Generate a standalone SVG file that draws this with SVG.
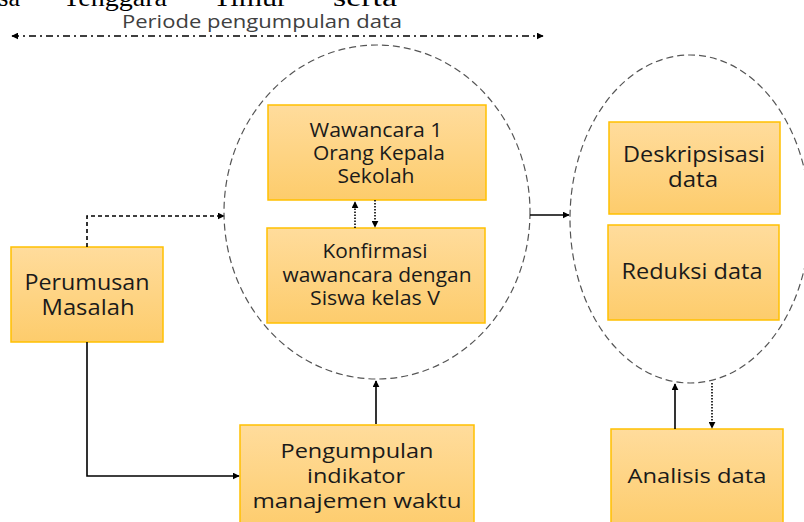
<svg xmlns="http://www.w3.org/2000/svg" width="804" height="522" viewBox="0 0 804 522">
  <defs>
    <linearGradient id="boxFill" x1="0" y1="0" x2="0" y2="1">
      <stop offset="0" stop-color="#FFDC9C"/>
      <stop offset="1" stop-color="#FDCC6C"/>
    </linearGradient>
    <marker id="arrow" viewBox="0 0 10 10" refX="9" refY="5" markerWidth="4.5" markerHeight="4.5" orient="auto" markerUnits="strokeWidth">
      <path d="M0,0 L10,5 L0,10 z" fill="#000"/>
    </marker>
    <marker id="arrowS" viewBox="0 0 10 10" refX="9" refY="5" markerWidth="7" markerHeight="7" orient="auto-start-reverse" markerUnits="userSpaceOnUse">
      <path d="M0,0 L10,5 L0,10 z" fill="#000"/>
    </marker>
  </defs>
  <style>
    .box { fill: url(#boxFill); stroke: #FFC000; stroke-width: 1.5; }
    .lbl { font-family: "Open Sans", "DejaVu Sans", sans-serif; fill: #1a1a1a; text-anchor: middle; }
    .ell { fill: none; stroke: #555; stroke-width: 1.2; stroke-dasharray: 7 4; }
    .con { fill: none; stroke: #000; stroke-width: 1.6; }
    .dash { stroke-dasharray: 4 3; }
    .dot { stroke-dasharray: 1.5 1.5; }
    .page { font-family: "Liberation Serif", "Times New Roman", serif; font-size: 26px; fill: #000; }
  </style>

  <!-- clipped page text at the top -->
  <g id="page-text">
    <text class="page" x="20" y="6" text-anchor="end">sa</text>
    <text class="page" x="63" y="6" textLength="104" lengthAdjust="spacingAndGlyphs">Tenggara</text>
    <text class="page" x="213" y="6" textLength="74" lengthAdjust="spacingAndGlyphs">Timur</text>
    <text class="page" x="333" y="6" textLength="64" lengthAdjust="spacingAndGlyphs">serta</text>
  </g>

  <!-- period label -->
  <g id="periode">
    <text x="122" y="28" font-family="Open Sans, DejaVu Sans, sans-serif" font-size="19" fill="#404040" textLength="280" lengthAdjust="spacingAndGlyphs">Periode pengumpulan data</text>
    <line x1="12" y1="36" x2="543" y2="36" stroke="#000" stroke-width="1.5" stroke-dasharray="7 4 2 4" marker-start="url(#arrowS)" marker-end="url(#arrowS)"/>
  </g>

  <!-- grouping ellipses -->
  <g id="group-collect">
    <ellipse class="ell" cx="377" cy="212" rx="153" ry="167"/>
  </g>
  <g id="group-analysis">
    <ellipse class="ell" cx="690" cy="219" rx="120" ry="164"/>
  </g>

  <!-- nodes -->
  <g id="perumusan">
    <rect class="box" x="11" y="247" width="152" height="95"/>
    <text class="lbl" font-size="21" x="87" y="290" textLength="125" lengthAdjust="spacingAndGlyphs">Perumusan</text>
    <text class="lbl" font-size="21" x="88" y="315" textLength="93" lengthAdjust="spacingAndGlyphs">Masalah</text>
  </g>

  <g id="wawancara">
    <rect class="box" x="268" y="105" width="218" height="95"/>
    <text class="lbl" font-size="19.5" x="376" y="137" textLength="133" lengthAdjust="spacingAndGlyphs">Wawancara 1</text>
    <text class="lbl" font-size="19.5" x="379" y="160" textLength="132" lengthAdjust="spacingAndGlyphs">Orang Kepala</text>
    <text class="lbl" font-size="19.5" x="376" y="183" textLength="77" lengthAdjust="spacingAndGlyphs">Sekolah</text>
  </g>

  <g id="konfirmasi">
    <rect class="box" x="267" y="228" width="218" height="95"/>
    <text class="lbl" font-size="19.5" x="375" y="258" textLength="105" lengthAdjust="spacingAndGlyphs">Konfirmasi</text>
    <text class="lbl" font-size="19.5" x="377" y="282" textLength="189" lengthAdjust="spacingAndGlyphs">wawancara dengan</text>
    <text class="lbl" font-size="19.5" x="375" y="305" textLength="130" lengthAdjust="spacingAndGlyphs">Siswa kelas V</text>
  </g>

  <g id="pengumpulan">
    <rect class="box" x="240" y="425" width="234" height="105"/>
    <text class="lbl" font-size="20" x="357" y="458" textLength="153" lengthAdjust="spacingAndGlyphs">Pengumpulan</text>
    <text class="lbl" font-size="20" x="356" y="483" textLength="98" lengthAdjust="spacingAndGlyphs">indikator</text>
    <text class="lbl" font-size="20" x="357" y="508" textLength="209" lengthAdjust="spacingAndGlyphs">manajemen waktu</text>
  </g>

  <g id="deskripsi">
    <rect class="box" x="609" y="122" width="171" height="92"/>
    <text class="lbl" font-size="21" x="694" y="162" textLength="142" lengthAdjust="spacingAndGlyphs">Deskripsisasi</text>
    <text class="lbl" font-size="21" x="693" y="187" textLength="50" lengthAdjust="spacingAndGlyphs">data</text>
  </g>

  <g id="reduksi">
    <rect class="box" x="608" y="225" width="171" height="95"/>
    <text class="lbl" font-size="21" x="692" y="279" textLength="141" lengthAdjust="spacingAndGlyphs">Reduksi data</text>
  </g>

  <g id="analisis">
    <rect class="box" x="611" y="429" width="172" height="100"/>
    <text class="lbl" font-size="20" x="697" y="483" textLength="139" lengthAdjust="spacingAndGlyphs">Analisis data</text>
  </g>

  <!-- connectors -->
  <g id="connectors">
    <path class="con dash" d="M87,247 V216 H224" marker-end="url(#arrowS)"/>
    <path class="con" d="M87,342 V476 H239" marker-end="url(#arrowS)"/>
    <path class="con" d="M376,424 V381" marker-end="url(#arrowS)"/>
    <path class="con dot" d="M355,228 V202" marker-end="url(#arrowS)"/>
    <path class="con dot" d="M375,200 V227" marker-end="url(#arrowS)"/>
    <path class="con" d="M530,215 H569" marker-end="url(#arrowS)"/>
    <path class="con" d="M675,429 V384" marker-end="url(#arrowS)"/>
    <path class="con dot" d="M712,383 V428" marker-end="url(#arrowS)"/>
  </g>
</svg>
